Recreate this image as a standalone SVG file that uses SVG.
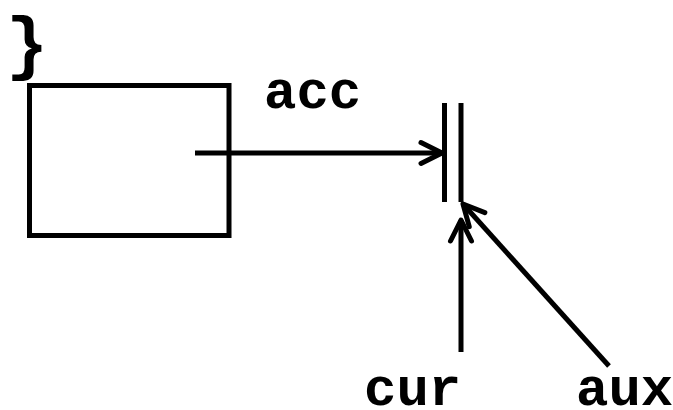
<svg xmlns="http://www.w3.org/2000/svg" width="673" height="410" viewBox="0 0 673 410">
<defs>
<style>
.ln{stroke:#000;stroke-width:5;fill:none;stroke-linecap:butt}
.t{font-family:"Liberation Mono","Courier New",monospace;font-weight:bold;font-size:54px;fill:#000}
</style>
<marker id="ah" markerUnits="userSpaceOnUse" markerWidth="40" markerHeight="40" viewBox="-30 -20 40 40" refX="0" refY="0" orient="auto" overflow="visible">
<path d="M-21,-10.5 L0,0 L-21,10.5" fill="none" stroke="#000" stroke-width="5" stroke-linecap="round" stroke-linejoin="round"/>
</marker>
</defs>
<rect width="673" height="410" fill="#fff"/>
<g id="brace"><text class="t" x="6" y="66" style="font-size:70px">}</text></g>
<g id="box"><rect x="29.5" y="85.5" width="199.5" height="150" fill="none" stroke="#000" stroke-width="5"/></g>
<g id="node-bars">
<line class="ln" x1="444.5" y1="103" x2="444.5" y2="202"/>
<line class="ln" x1="461" y1="103" x2="461" y2="202"/>
</g>
<g id="labels">
<text class="t" x="264" y="108">acc</text>
<text class="t" x="364" y="405">cur</text>
<text class="t" x="576" y="405">aux</text>
</g>
<g id="connectors">
<line class="ln" x1="195" y1="153" x2="442" y2="153" marker-end="url(#ah)"/>
<line class="ln" x1="461" y1="352" x2="461" y2="220" marker-end="url(#ah)"/>
<line class="ln" x1="609" y1="366" x2="463" y2="204" marker-end="url(#ah)"/>
</g>
</svg>
